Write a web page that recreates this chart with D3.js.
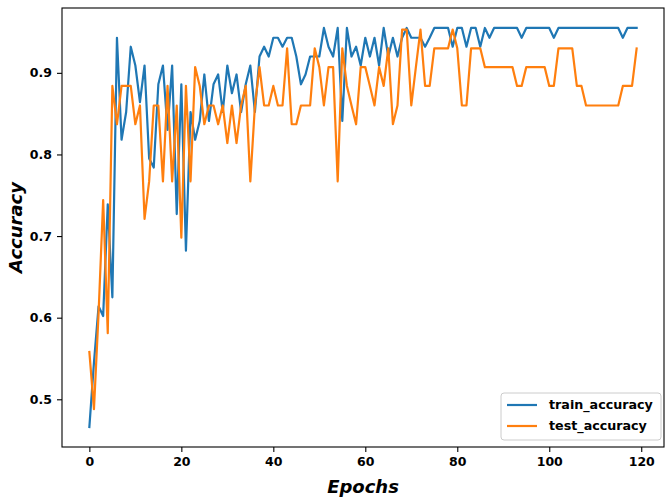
<!DOCTYPE html>
<html>
<head>
<meta charset="utf-8">
<script src="https://cdn.jsdelivr.net/npm/d3@7"></script>
<style>
  html, body { margin: 0; padding: 0; background: #fff; }
  svg { display: block; }
  text { font-family: "DejaVu Sans", sans-serif; }
</style>
</head>
<body>
<svg id="chart" width="669" height="502"></svg>
<script>
// Accuracy per training epoch
const trainAccuracy = [
  0.466, 0.545, 0.614, 0.602, 0.739, 0.625, 0.943, 0.818, 0.852, 0.932,
  0.909, 0.864, 0.909, 0.795, 0.784, 0.886, 0.909, 0.830, 0.909, 0.727,
  0.886, 0.682, 0.852, 0.818, 0.841, 0.898, 0.841, 0.886, 0.898, 0.852,
  0.909, 0.875, 0.898, 0.852, 0.886, 0.909, 0.852, 0.920, 0.932, 0.920,
  0.943, 0.943, 0.932, 0.943, 0.943, 0.920, 0.886, 0.898, 0.920, 0.920,
  0.920, 0.955, 0.932, 0.920, 0.955, 0.841, 0.955, 0.920, 0.932, 0.909,
  0.943, 0.920, 0.943, 0.909, 0.955, 0.920, 0.943, 0.920, 0.943, 0.955,
  0.943, 0.943, 0.943, 0.932, 0.943, 0.955, 0.955, 0.955, 0.955, 0.932,
  0.955, 0.955, 0.932, 0.955, 0.955, 0.932, 0.955, 0.943, 0.955, 0.955,
  0.955, 0.955, 0.955, 0.955, 0.943, 0.955, 0.955, 0.955, 0.955, 0.955,
  0.955, 0.943, 0.955, 0.955, 0.955, 0.955, 0.955, 0.955, 0.955, 0.955,
  0.955, 0.955, 0.955, 0.955, 0.955, 0.955, 0.943, 0.955, 0.955, 0.955
];
const testAccuracy = [
  0.558, 0.488, 0.605, 0.744, 0.581, 0.884, 0.837, 0.884, 0.884, 0.884,
  0.837, 0.860, 0.721, 0.767, 0.860, 0.860, 0.767, 0.884, 0.767, 0.860,
  0.698, 0.884, 0.767, 0.907, 0.884, 0.837, 0.860, 0.860, 0.837, 0.860,
  0.814, 0.860, 0.814, 0.860, 0.884, 0.767, 0.860, 0.907, 0.860, 0.860,
  0.884, 0.860, 0.860, 0.930, 0.837, 0.837, 0.860, 0.860, 0.860, 0.930,
  0.907, 0.860, 0.907, 0.907, 0.767, 0.930, 0.884, 0.860, 0.837, 0.907,
  0.907, 0.884, 0.860, 0.907, 0.884, 0.930, 0.837, 0.860, 0.953, 0.953,
  0.860, 0.907, 0.953, 0.884, 0.884, 0.930, 0.930, 0.930, 0.930, 0.953,
  0.930, 0.860, 0.860, 0.930, 0.930, 0.930, 0.907, 0.907, 0.907, 0.907,
  0.907, 0.907, 0.907, 0.884, 0.884, 0.907, 0.907, 0.907, 0.907, 0.907,
  0.884, 0.884, 0.930, 0.930, 0.930, 0.930, 0.884, 0.884, 0.860, 0.860,
  0.860, 0.860, 0.860, 0.860, 0.860, 0.860, 0.884, 0.884, 0.884, 0.930
];
const epochs = trainAccuracy.map((_, i) => i);
const xTicks = [0, 20, 40, 60, 80, 100, 120];
const yTicks = [0.5, 0.6, 0.7, 0.8, 0.9];
const seriesNames = ["train_accuracy", "test_accuracy"];
const seriesColors = ["#1f77b4", "#ff7f0e"];

const svg = d3.select("#chart");
const plot = { left: 62, right: 664, top: 8, bottom: 447 };

// 5% padding around the data range on both axes
const xMin = d3.min(epochs), xMax = d3.max(epochs);
const xPad = (xMax - xMin) * 0.05;
const allVals = trainAccuracy.concat(testAccuracy);
const yMin = d3.min(allVals), yMax = d3.max(allVals);
const yPad = (yMax - yMin) * 0.05;

const x = d3.scaleLinear().domain([xMin - xPad, xMax + xPad]).range([plot.left, plot.right]);
const y = d3.scaleLinear().domain([yMin - yPad, yMax + yPad]).range([plot.bottom, plot.top]);

const line = d3.line().x((d, i) => x(epochs[i])).y(d => y(d));

const g = svg.append("g");

[trainAccuracy, testAccuracy].forEach((series, k) => {
  g.append("path")
    .datum(series)
    .attr("fill", "none")
    .attr("stroke", seriesColors[k])
    .attr("stroke-width", 2.2)
    .attr("stroke-linejoin", "round")
    .attr("stroke-linecap", "square")
    .attr("d", line);
});

// axes
const xAxis = svg.append("g")
  .attr("transform", `translate(0,${plot.bottom})`)
  .call(d3.axisBottom(x).tickValues(xTicks).tickFormat(d3.format("d")).tickSize(5).tickPadding(5).tickSizeOuter(0));
const yAxis = svg.append("g")
  .attr("transform", `translate(${plot.left},0)`)
  .call(d3.axisLeft(y).tickValues(yTicks).tickFormat(d3.format(".1f")).tickSize(5).tickPadding(5).tickSizeOuter(0));

[xAxis, yAxis].forEach(a => {
  a.select(".domain").remove();
  a.selectAll(".tick line").attr("stroke", "#000").attr("stroke-width", 1.1);
  a.selectAll(".tick text")
    .attr("fill", "#000")
    .style("font-family", "'DejaVu Sans', sans-serif")
    .style("font-weight", "bold")
    .style("font-size", "12.5px");
});

// frame
svg.append("rect")
  .attr("x", plot.left).attr("y", plot.top)
  .attr("width", plot.right - plot.left).attr("height", plot.bottom - plot.top)
  .attr("fill", "none").attr("stroke", "#000").attr("stroke-width", 1.1);

// axis titles
svg.append("text")
  .attr("x", (plot.left + plot.right) / 2).attr("y", 493)
  .attr("text-anchor", "middle")
  .style("font-size", "18px").style("font-weight", "bold").style("font-style", "italic")
  .text("Epochs");
svg.append("text")
  .attr("transform", `translate(22,${(plot.top + plot.bottom) / 2}) rotate(-90)`)
  .attr("text-anchor", "middle")
  .style("font-size", "18px").style("font-weight", "bold").style("font-style", "italic")
  .text("Accuracy");

// legend
const lg = svg.append("g").attr("transform", "translate(501,393)");
lg.append("rect")
  .attr("width", 160).attr("height", 47).attr("rx", 3)
  .attr("fill", "#fff").attr("fill-opacity", 0.8)
  .attr("stroke", "#cccccc").attr("stroke-width", 1);
seriesNames.forEach((name, k) => {
  const cy = 12 + k * 21;
  lg.append("line")
    .attr("x1", 6).attr("x2", 36).attr("y1", cy).attr("y2", cy)
    .attr("stroke", seriesColors[k]).attr("stroke-width", 2.2);
  lg.append("text")
    .attr("x", 48).attr("y", cy).attr("dy", "0.35em")
    .style("font-size", "12.7px").style("font-weight", "bold")
    .text(name);
});
</script>
</body>
</html>
